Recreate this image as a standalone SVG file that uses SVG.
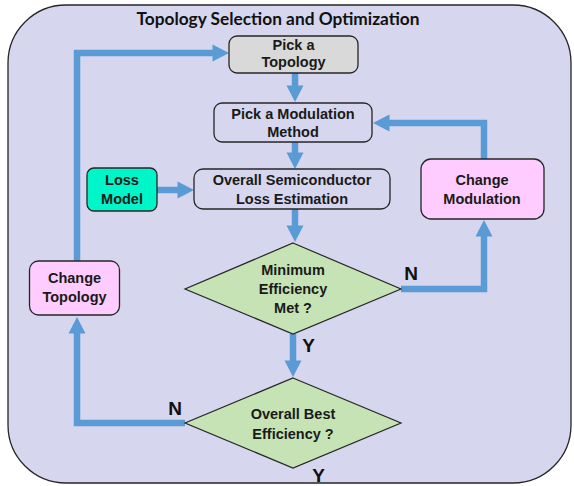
<svg xmlns="http://www.w3.org/2000/svg" width="574" height="486" viewBox="0 0 574 486">
  <style>
    .panel { fill: #d6d6ee; stroke: #262626; stroke-width: 1.3; }
    .box { stroke: #262626; stroke-width: 1.3; }
    .grey { fill: #d9d9d9; }
    .plain { fill: #d6d6ee; }
    .aqua { fill: #00f5c8; }
    .pink { fill: #ffccff; }
    .dia { fill: #c5e3b5; stroke: #262626; stroke-width: 1.2; }
    .lbl { font-family: "Liberation Sans", Arial, sans-serif; font-weight: bold; font-size: 14.5px; fill: #1a1a1a; text-anchor: middle; }
    .title { font-family: Lato, "Liberation Sans", sans-serif; font-weight: bold; font-size: 17.3px; fill: #111; text-anchor: middle; }
    .yn { font-family: "Liberation Sans", Arial, sans-serif; font-weight: bold; font-size: 19px; fill: #111; text-anchor: middle; }
    .flow { fill: none; stroke: #5b9bd5; stroke-width: 6.5; stroke-linejoin: miter; marker-end: url(#head); }
  </style>
  <defs>
    <marker id="head" markerUnits="userSpaceOnUse" markerWidth="17" markerHeight="17" refX="0.5" refY="8.5" orient="auto" overflow="visible">
      <path d="M0,0 L16.5,8.5 L0,17 z" fill="#5b9bd5"/>
    </marker>
  </defs>

  <!-- outer panel -->
  <rect class="panel" x="8" y="5" width="563" height="478" rx="58" ry="58"/>
  <text class="title" x="278" y="24.5">Topology Selection and Optimization</text>

  <!-- connectors -->
  <g id="connectors">
    <path class="flow" d="M295,73 V86"/>
    <path class="flow" d="M295,142 V153"/>
    <path class="flow" d="M157,190 H178"/>
    <path class="flow" d="M295,209 V226"/>
    <path class="flow" d="M401,289 H484 V236"/>
    <path class="flow" d="M484,160 V123 H389"/>
    <path class="flow" d="M293,334 V361"/>
    <path class="flow" d="M185,423 H77 V333"/>
    <path class="flow" d="M77,261 V53 H213"/>
  </g>

  <g id="pick-topology">
    <rect class="box grey" x="229" y="36" width="129" height="37" rx="8"/>
    <text class="lbl" x="293.5" y="49.5">Pick a</text>
    <text class="lbl" x="293.5" y="67">Topology</text>
  </g>

  <g id="pick-modulation">
    <rect class="box plain" x="214" y="103" width="158" height="39" rx="8"/>
    <text class="lbl" x="293" y="118.5">Pick a Modulation</text>
    <text class="lbl" x="293" y="137">Method</text>
  </g>

  <g id="loss-model">
    <rect class="box aqua" x="87" y="168" width="70" height="43" rx="7"/>
    <text class="lbl" x="122" y="185">Loss</text>
    <text class="lbl" x="122" y="204">Model</text>
  </g>

  <g id="loss-estimation">
    <rect class="box plain" x="194" y="169" width="196" height="40" rx="9"/>
    <text class="lbl" x="292" y="185">Overall Semiconductor</text>
    <text class="lbl" x="292" y="204">Loss Estimation</text>
  </g>

  <g id="change-modulation">
    <rect class="box pink" x="421" y="159" width="123" height="60" rx="10"/>
    <text class="lbl" x="482" y="185">Change</text>
    <text class="lbl" x="482" y="204">Modulation</text>
  </g>

  <g id="change-topology">
    <rect class="box pink" x="29.5" y="261" width="90" height="54" rx="9"/>
    <text class="lbl" x="74.5" y="282.5">Change</text>
    <text class="lbl" x="74.5" y="301.5">Topology</text>
  </g>

  <g id="min-efficiency">
    <polygon class="dia" points="293,243 401,289 293,334 185,289"/>
    <text class="lbl" x="293" y="274.5">Minimum</text>
    <text class="lbl" x="293" y="293.5">Efficiency</text>
    <text class="lbl" x="293" y="312.5">Met ?</text>
  </g>

  <g id="best-efficiency">
    <polygon class="dia" points="293,378 401,423 293,468 185,423"/>
    <text class="lbl" x="293" y="419">Overall Best</text>
    <text class="lbl" x="293" y="438.5">Efficiency ?</text>
  </g>

  <g id="branch-labels">
    <text class="yn" x="411" y="279.5">N</text>
    <text class="yn" x="308.5" y="351.5">Y</text>
    <text class="yn" x="175" y="414.5">N</text>
    <text class="yn" x="318.5" y="481.5">Y</text>
  </g>
</svg>
